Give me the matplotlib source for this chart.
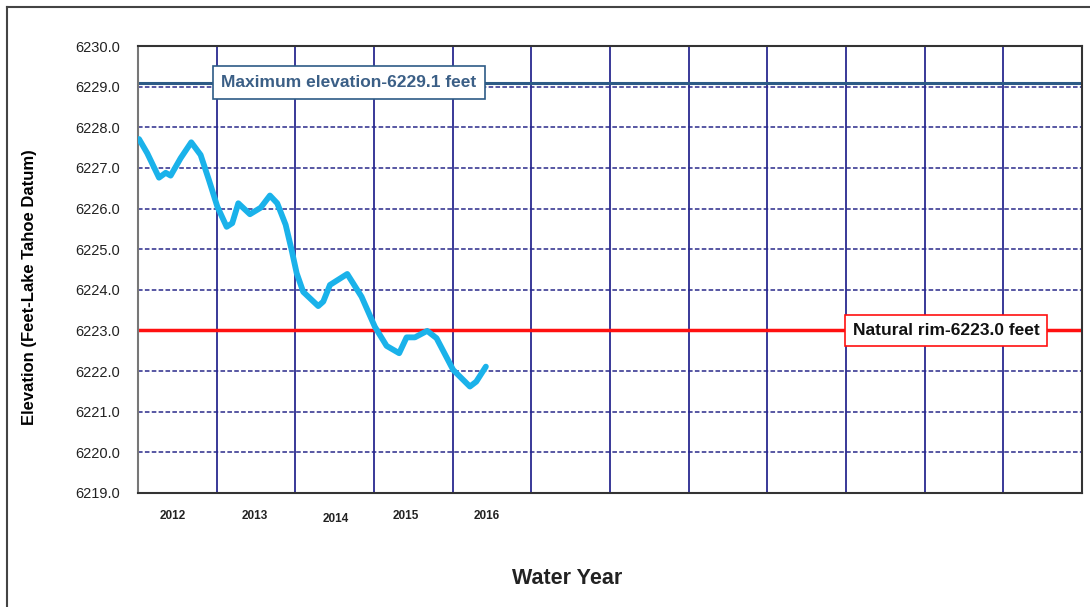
import matplotlib
matplotlib.use("Agg")
import matplotlib.pyplot as plt
from matplotlib.lines import Line2D

plt.rcParams['font.family'] = ['Liberation Sans', 'DejaVu Sans']

# Data: time in water years since start of WY2012, elevation in feet
t = [0.013, 0.118, 0.267, 0.352, 0.415, 0.542, 0.677, 0.796, 0.902, 1.008,
     1.127, 1.198, 1.275, 1.423, 1.559, 1.677, 1.77, 1.877, 1.953, 2.017,
     2.1, 2.291, 2.355, 2.44, 2.66, 2.842, 3.011, 3.16, 3.32, 3.414,
     3.52, 3.676, 3.795, 4.006, 4.219, 4.30, 4.422]
elev = [6227.71, 6227.36, 6226.76, 6226.88, 6226.81, 6227.24, 6227.63, 6227.32,
        6226.70, 6226.05, 6225.55, 6225.64, 6226.13, 6225.86, 6226.02, 6226.32,
        6226.13, 6225.60, 6224.98, 6224.41, 6223.95, 6223.60, 6223.71, 6224.12,
        6224.39, 6223.83, 6223.09, 6222.62, 6222.44, 6222.83, 6222.83, 6222.99,
        6222.81, 6222.03, 6221.62, 6221.74, 6222.11]

year_labels = ['2012', '2013', '2014', '2015', '2016']
year_label_pos = [0.445, 1.48, 2.51, 3.405, 4.435]

max_elev = 6229.1
natural_rim = 6223.0
y_ticks = [6219 + i for i in range(12)]
n_years = 12

fig = plt.figure(figsize=(10.9, 6.07), dpi=100)
ax = fig.add_axes([138/1090, 1-493/607, 944/1090, 447/607])

ax.set_xlim(0, n_years)
ax.set_ylim(6219, 6230)

# grid
for yv in y_ticks[1:-1]:
    ax.axhline(yv, color='#2a2a8a', lw=1.1, ls=(0, (3, 1.5)), zorder=1)
for xv in range(1, n_years):
    ax.axvline(xv, color='#2a2a90', lw=1.3, zorder=1)

ax.axhline(max_elev, color='#2d5b86', lw=2.2, zorder=2)
ax.axhline(natural_rim, color='#ff1010', lw=2.5, zorder=2)

ax.plot(t, elev, color='#1ab2ea', lw=4.2, solid_joinstyle='round',
        solid_capstyle='round', zorder=3)

ax.set_yticks(y_ticks)
ax.set_yticklabels([f"{v:.1f}" for v in y_ticks], fontsize=10.5, color='#222222')
ax.tick_params(axis='y', length=0, pad=13)
ax.set_xticks([])

for lab, pos in zip(year_labels, year_label_pos):
    ypix = 519 if lab == '2014' else 516
    ax.text(pos, -(ypix - 493) / 447, lab, transform=ax.get_xaxis_transform(),
            fontsize=8.5, fontweight='bold', ha='center', va='center',
            color='#222222')

for sp in ax.spines.values():
    sp.set_color('#333333')
    sp.set_linewidth(1.5)
ax.spines['left'].set_color('#777777')

ax.text(1.06, max_elev, 'Maximum elevation-6229.1 feet', fontsize=12.5,
        fontweight='bold', color='#3b5f86', va='center', ha='left', zorder=5,
        bbox=dict(boxstyle='square,pad=0.5', fc='white', ec='#2d5b86', lw=1.2))
ax.text(9.085, natural_rim, 'Natural rim-6223.0 feet', fontsize=12.5,
        fontweight='bold', color='#111111', va='center', ha='left', zorder=5,
        bbox=dict(boxstyle='square,pad=0.45', fc='white', ec='#ff1010', lw=1.2))

fig.text(30/1090, 1-287/607, 'Elevation (Feet-Lake Tahoe Datum)', rotation=90,
         fontsize=12, fontweight='bold', ha='center', va='center')
fig.text(567/1090, 1-579/607, 'Water Year', fontsize=15.5, fontweight='bold',
         ha='center', va='center', color='#222222')

# outer chart frame (cropped)
fig.add_artist(Line2D([7/1090, 7/1090], [0, 1-7/607], color='#444444', lw=1.5,
                      transform=fig.transFigure))
fig.add_artist(Line2D([7/1090, 1], [1-7/607, 1-7/607], color='#444444', lw=1.5,
                      transform=fig.transFigure))

fig.savefig('out.png', dpi=100)
